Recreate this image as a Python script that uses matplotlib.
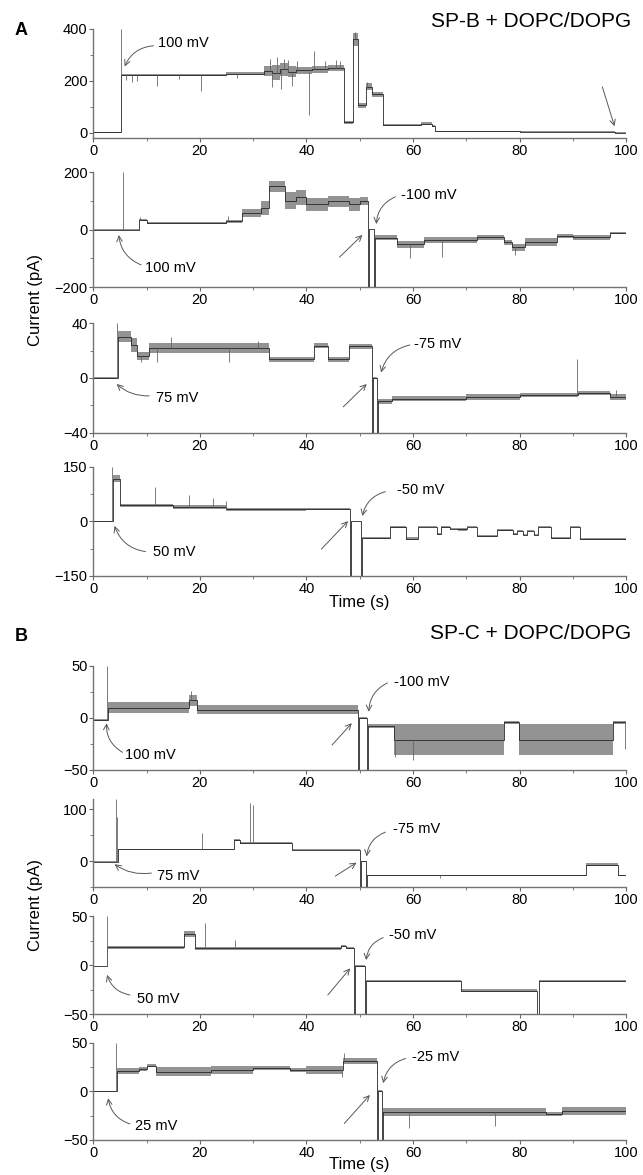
"""Single-channel current traces, SP-B / SP-C in DOPC/DOPG bilayers (8 stacked panels)."""

import matplotlib

matplotlib.use("Agg")
import matplotlib.pyplot as plt
import numpy as np
from matplotlib.ticker import MultipleLocator

plt.rcParams.update({
    "font.family": ["Liberation Sans", "DejaVu Sans"],
    "font.size": 10,
    "axes.spines.top": False,
    "axes.spines.right": False,
})

# ---------------------------------------------------------------- traces
# each trace: segment edges (s), segment mean current (pA), half-width of noise, spikes
A1_EDGES = [0, 5.3, 25, 32, 33.5, 35, 36.5, 38, 41, 44, 47, 48.8, 49.7, 51.2, 52.3, 54.4,
            61.5, 63.5, 64.2, 80, 97.8, 100]
A1_LEVEL = [1, 222, 228, 238, 232, 245, 235, 240, 245, 248, 40, 360, 105, 178, 148,
            30, 34, 25, 6, 4, 0]
A1_NOISE = [1, 3, 5, 20, 28, 25, 22, 12, 14, 12, 6, 25, 10, 12, 10, 4, 6, 3, 2, 2, 1]
A1_SPIKE_T = [5.3, 6.2, 7.3, 8.3, 12.0, 16, 20.2, 27, 33.2, 33.6, 34.5, 35.2, 35.8, 36.5,
              37.3, 38.2, 40.4, 41.4, 43.5, 45.5, 46.3, 49.1, 51.3]
A1_SPIKE_Y = [400, 205, 195, 200, 180, 208, 160, 212, 285, 175, 290, 170, 285, 280,
              180, 275, 67, 313, 275, 280, 275, 388, 195]

A2_EDGES = [0, 8.6, 10, 25, 28, 31.5, 33, 36, 38, 40, 44, 48, 50, 51.6, 51.8, 52.6, 52.8,
            57, 62, 72, 77, 78.5, 81, 87, 90, 97, 100]
A2_LEVEL = [0, 33, 22, 28, 58, 75, 150, 100, 112, 88, 98, 88, 100, -200, 2, -200, -28,
            -52, -36, -27, -45, -62, -43, -22, -27, -12]
A2_NOISE = [2, 4, 4, 6, 14, 25, 20, 30, 25, 22, 20, 22, 14, 0, 1, 0, 8, 12, 10, 8, 10,
            12, 14, 8, 8, 5]
A2_SPIKE_T = [5.5, 8.8, 25.2, 59.5, 65.5, 79.2]
A2_SPIKE_Y = [200, 45, 48, -100, -95, -90]

A3_EDGES = [0, 4.7, 7, 8.2, 10.5, 33, 41.5, 44, 48, 52.3, 52.5, 53.3, 53.5, 56, 70, 80, 91,
            97, 100]
A3_LEVEL = [0, 30, 24, 16, 22, 13.5, 23.5, 13.5, 23, -40, 0, -40, -17, -15, -14, -12.5,
            -11, -14]
A3_NOISE = [0.5, 4, 5, 3, 3.5, 1.5, 2, 1.5, 2, 0, 0.5, 0, 2, 2, 2, 1.5, 1.5, 2]
A3_SPIKE_T = [4.5, 9, 12, 14.5, 25.5, 31, 90.8, 98]
A3_SPIKE_Y = [40, 12, 12, 30, 12, 27, 14, -9]

A4_EDGES = [0, 3.8, 5.1, 15, 25, 40, 48.2, 48.4, 50.2, 50.4, 55.6, 58.6, 61, 64.5, 65.3, 67,
            68.5, 70.2, 72, 75.7, 78.8, 79.5, 80.7, 81.4, 82.6, 83.5, 85.9, 89.4, 91.3, 100]
A4_LEVEL = [0, 118, 44, 40, 34, 35, -150, 1, -150, -46, -15, -47, -14, -35, -15, -20, -22,
            -14, -41, -24, -34, -25, -36, -25, -36, -14, -46, -14, -49]
A4_NOISE = [1, 10, 5, 5, 4, 3, 0, 1, 0, 3, 2, 3, 2, 3, 2, 2, 3, 2, 3, 2, 2, 2, 2, 2, 2, 2,
            3, 2, 3]
A4_SPIKE_T = [3.6, 11.5, 18, 22.5, 25]
A4_SPIKE_Y = [150, 96, 73, 64, 57]

B1_EDGES = [0, 2.7, 18, 19.5, 49.6, 49.8, 51.3, 51.5, 56.5, 77, 79.8, 97.5, 100]
B1_LEVEL = [-1.5, 10, 17, 8, -50, 0, -50, -8, -21, -4, -21, -4]
B1_NOISE = [1, 5, 5, 4.5, 0, 1, 0, 2, 15, 1.5, 15, 1.5]
B1_SPIKE_T = [2.6, 18.3, 56.6, 60, 99.7]
B1_SPIKE_Y = [50, 26, -38, -40, -30]

B2_EDGES = [0, 4.6, 26.5, 27.5, 37.2, 50, 50.15, 51.2, 51.4, 92.5, 98.5, 100]
B2_LEVEL = [-1, 23, 40, 35, 22, -50, 0, -50, -27, -7, -27]
B2_NOISE = [1, 1, 2, 1.5, 1, 0, 1, 0, 1, 2.5, 1]
B2_SPIKE_T = [4.3, 4.5, 20.4, 29.4, 29.9, 65]
B2_SPIKE_Y = [120, 85, 54, 112, 108, -33]

B3_EDGES = [0, 2.6, 17, 19, 46.5, 47.5, 49, 49.2, 51, 51.2, 69, 83.3, 83.6, 100]
B3_LEVEL = [-1, 18, 32, 17, 19.5, 17, -50, -1, -50, -16, -26, -50, -16]
B3_NOISE = [0.5, 1.5, 3, 1.2, 1, 1, 0, 1, 0, 1.2, 1.5, 0, 1.2]
B3_SPIKE_T = [2.5, 20.9, 26.6]
B3_SPIKE_Y = [50, 43, 26]

B4_EDGES = [0, 4.5, 8.5, 10, 11.7, 22, 30, 37, 40, 46.8, 53.2, 53.4, 54.1, 54.3, 85, 88, 100]
B4_LEVEL = [0, 21, 23, 26.5, 20.5, 22, 24, 22.5, 22, 31, -50, 0, -50, -21, -23, -20]
B4_NOISE = [0.5, 3, 2, 1.5, 5, 4, 2, 2, 4, 3, 0, 1, 0, 4, 2, 4]
B4_SPIKE_T = [4.2, 46.6, 47, 59.3, 75.3]
B4_SPIKE_Y = [50, 15, 40, -38, -36]

# voltage labels: (text, text pos, curved arrow start, curved arrow end, rad)
A1_NOTES = [("100 mV", (12.2, 346), (11.3, 335), (5.9, 255), 0.3)]
A2_NOTES = [("-100 mV", (57.8, 120), (56.7, 114), (53.1, 19), 0.3),
            ("100 mV", (9.8, -134), (9.0, -123), (4.8, -19), -0.3)]
A3_NOTES = [("-75 mV", (60.2, 25), (59.4, 24), (54.0, 4), 0.3),
            ("75 mV", (11.7, -14.7), (10.5, -13), (4.4, -4.4), -0.2)]
A4_NOTES = [("-50 mV", (57.0, 87), (54.8, 82), (50.5, 15), 0.3),
            ("50 mV", (11.3, -83), (9.8, -83), (4.0, -12), -0.3)]
B1_NOTES = [("-100 mV", (56.5, 35), (55.2, 33.7), (51.7, 6), 0.3),
            ("100 mV", (6.0, -35.6), (5.5, -33), (2.5, -5), -0.3)]
B2_NOTES = [("-75 mV", (56.3, 61.5), (54.8, 56), (51.3, 9), 0.3),
            ("75 mV", (12.0, -28), (10.9, -23), (4.0, -6), -0.2)]
B3_NOTES = [("-50 mV", (55.5, 30.6), (54.4, 28), (51.2, 5), 0.3),
            ("50 mV", (8.2, -35), (6.9, -30.6), (2.6, -10), -0.3)]
B4_NOTES = [("-25 mV", (59.8, 36), (58.6, 34), (54.4, 8.5), 0.3),
            ("25 mV", (7.8, -36), (6.9, -33.5), (2.8, -7), -0.3)]
# straight arrows pointing at the voltage-step transient
A1_ARROW = [(95.5, 177), (97.8, 25)]
A2_ARROW = [(46.2, -96), (50.5, -19)]
A3_ARROW = [(46.9, -21), (51.3, -4.4)]
A4_ARROW = [(42.8, -76), (47.8, 1)]
B1_ARROW = [(44.8, -26), (48.5, -5)]
B2_ARROW = [(45.4, -29), (49.4, -3)]
B3_ARROW = [(44.0, -30.6), (48.2, -3.4)]
B4_ARROW = [(47.1, -33), (51.9, -3.6)]

# ---------------------------------------------------------------- layout (fig fractions)
#        bottom,  height, ylim,        major, minor
PANELS = [
    ("A1", 0.8826, 0.0928, (-20, 400), 200, 100),
    ("A2", 0.7557, 0.0979, (-200, 200), 200, 100),
    ("A3", 0.6315, 0.0936, (-40, 40), 40, 20),
    ("A4", 0.5098, 0.0928, (-150, 150), 150, 75),
    ("B1", 0.3447, 0.0885, (-50, 50), 50, 25),
    ("B2", 0.2451, 0.0749, (-50, 120), 100, 50),
    ("B3", 0.1370, 0.0834, (-50, 50), 50, 25),
    ("B4", 0.0298, 0.0826, (-50, 50), 50, 25),
]
DATA = {
    "A1": (A1_EDGES, A1_LEVEL, A1_NOISE, A1_SPIKE_T, A1_SPIKE_Y, A1_NOTES, A1_ARROW),
    "A2": (A2_EDGES, A2_LEVEL, A2_NOISE, A2_SPIKE_T, A2_SPIKE_Y, A2_NOTES, A2_ARROW),
    "A3": (A3_EDGES, A3_LEVEL, A3_NOISE, A3_SPIKE_T, A3_SPIKE_Y, A3_NOTES, A3_ARROW),
    "A4": (A4_EDGES, A4_LEVEL, A4_NOISE, A4_SPIKE_T, A4_SPIKE_Y, A4_NOTES, A4_ARROW),
    "B1": (B1_EDGES, B1_LEVEL, B1_NOISE, B1_SPIKE_T, B1_SPIKE_Y, B1_NOTES, B1_ARROW),
    "B2": (B2_EDGES, B2_LEVEL, B2_NOISE, B2_SPIKE_T, B2_SPIKE_Y, B2_NOTES, B2_ARROW),
    "B3": (B3_EDGES, B3_LEVEL, B3_NOISE, B3_SPIKE_T, B3_SPIKE_Y, B3_NOTES, B3_ARROW),
    "B4": (B4_EDGES, B4_LEVEL, B4_NOISE, B4_SPIKE_T, B4_SPIKE_Y, B4_NOTES, B4_ARROW),
}

C_TRACE = "0.15"
C_NOISE = "0.5"
C_ARROW = "0.35"


def draw_trace(ax, edges, level, noise, spike_t, spike_y):
    edges = np.asarray(edges, float)
    level = np.asarray(level, float)
    noise = np.asarray(noise, float)
    lv = np.append(level, level[-1])
    nz = np.append(noise, noise[-1])
    ax.fill_between(edges, lv - nz, lv + nz, step="post", facecolor=C_NOISE,
                    edgecolor="none", lw=0, alpha=0.85, zorder=1)
    ax.step(edges, lv, where="post", color=C_TRACE, lw=0.6, zorder=2)
    idx = np.searchsorted(edges, spike_t, side="right") - 1
    ax.vlines(spike_t, level[idx], spike_y, color="0.4", lw=0.6, zorder=2)


fig = plt.figure(figsize=(6.43, 11.75), dpi=100)

for name, bottom, height, ylim, major, minor in PANELS:
    edges, level, noise, st, sy, notes, arrow = DATA[name]
    ax = fig.add_axes([0.145, bottom, 0.829, height])
    draw_trace(ax, edges, level, noise, st, sy)
    ax.set_xlim(0, 100)
    ax.set_ylim(*ylim)
    ax.xaxis.set_major_locator(MultipleLocator(20))
    ax.xaxis.set_minor_locator(MultipleLocator(10))
    ax.yaxis.set_major_locator(MultipleLocator(major))
    ax.yaxis.set_minor_locator(MultipleLocator(minor))
    ax.tick_params(which="major", direction="out", length=3, width=0.8,
                   labelsize=10.5, pad=1, color="0.4")
    ax.tick_params(which="minor", direction="out", length=2, width=0.6, color="0.4")
    for sp in ("left", "bottom"):
        ax.spines[sp].set_color("0.45")
        ax.spines[sp].set_linewidth(1.0)
    for txt, tpos, a0, a1, rad in notes:
        ax.text(*tpos, txt, ha="left", va="center", fontsize=10.5)
        ax.annotate("", xy=a1, xytext=a0,
                    arrowprops=dict(arrowstyle="->", color=C_ARROW, lw=0.7,
                                    connectionstyle=f"arc3,rad={rad}",
                                    shrinkA=0, shrinkB=0))
    ax.annotate("", xy=arrow[1], xytext=arrow[0],
                arrowprops=dict(arrowstyle="->", color=C_ARROW, lw=0.7,
                                shrinkA=0, shrinkB=0))

fig.text(0.023, 0.974, "A", fontsize=13, fontweight="bold", ha="left", va="center")
fig.text(0.023, 0.458, "B", fontsize=13, fontweight="bold", ha="left", va="center")
fig.text(0.981, 0.982, "SP-B + DOPC/DOPG", fontsize=15, ha="right", va="center")
fig.text(0.981, 0.461, "SP-C + DOPC/DOPG", fontsize=15, ha="right", va="center")
fig.text(0.055, 0.745, "Current (pA)", rotation=90, fontsize=12, ha="center", va="center")
fig.text(0.055, 0.230, "Current (pA)", rotation=90, fontsize=12, ha="center", va="center")
fig.text(0.559, 0.487, "Time (s)", fontsize=12, ha="center", va="center")
fig.text(0.559, 0.009, "Time (s)", fontsize=12, ha="center", va="center")

fig.savefig("out.png", dpi=100)
